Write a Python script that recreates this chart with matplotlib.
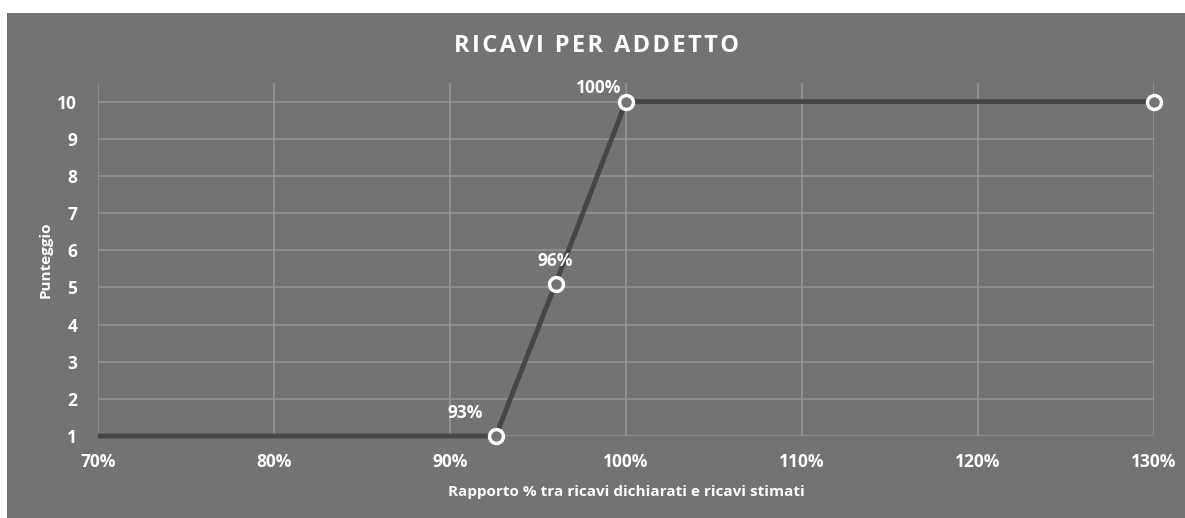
import matplotlib
matplotlib.use("Agg")
import matplotlib.pyplot as plt
from matplotlib.patches import Rectangle

# data
rapporto = [0.70, 0.926, 0.960, 1.00, 1.30]
punteggio = [1, 1, 5.1, 10, 10]
etichette = [None, "93%", "96%", "100%", None]
x_ticks = [0.70, 0.80, 0.90, 1.00, 1.10, 1.20, 1.30]
y_ticks = list(range(1, 11))
titolo = "RICAVI PER ADDETTO"

BG = "#737373"
GRID = "#939393"
LINE = "#464646"

plt.rcParams['font.family'] = ['Open Sans', 'DejaVu Sans']

fig = plt.figure(figsize=(11.85, 5.18), dpi=100)
fig.patch.set_facecolor("white")
# grey chart panel (white margin on top and left, like the screenshot)
fig.patches.append(Rectangle((7 / 1185, 0), 1, 1 - 13 / 518,
                             transform=fig.transFigure, facecolor=BG,
                             edgecolor="none", zorder=-10))

ax = fig.add_axes([98 / 1185, 82 / 518, (1154 - 98) / 1185, (436 - 83) / 518])
ax.set_zorder(5)
ax.set_facecolor(BG)
ax.patch.set_alpha(0)

ax.plot(rapporto, punteggio, color=LINE, lw=3.5, zorder=3, solid_capstyle="butt",
        clip_on=False)
ax.plot(rapporto[1:], punteggio[1:], ls="none", marker="o", ms=10,
        mfc=BG, mec="white", mew=2.5, zorder=4, clip_on=False)

# data labels
offsets = {"93%": (-22, 10), "96%": (0, 10), "100%": (-20, 3)}
for x, y, lab in zip(rapporto, punteggio, etichette):
    if lab is None:
        continue
    dx, dy = offsets[lab]
    ax.annotate(lab, (x, y), xytext=(dx, dy), textcoords="offset points",
                ha="center", va="bottom", color="white", fontsize=12.5,
                fontweight="bold", zorder=5)

ax.set_xlim(0.70, 1.30)
ax.set_ylim(1, 10.5)
ax.set_xticks(x_ticks)
ax.set_xticklabels([f"{round(v * 100)}%" for v in x_ticks])
ax.set_yticks(y_ticks)

ax.grid(True, color=GRID, lw=1.2, zorder=1)
ax.set_axisbelow(True)
for s in ax.spines.values():
    s.set_visible(False)
ax.tick_params(length=0, colors="white", labelsize=12.5, pad=12)
ax.tick_params(axis="y", pad=15)
for t in ax.get_xticklabels() + ax.get_yticklabels():
    t.set_fontweight("bold")

ax.set_xlabel("Rapporto % tra ricavi dichiarati e ricavi stimati",
              color="white", fontsize=11, fontweight="bold", labelpad=10)
ax.set_ylabel("Punteggio", color="white", fontsize=11, fontweight="bold",
              labelpad=3)

# title with a little letter spacing, like the Excel one
spaced = "\u200a \u200a".join("\u200a".join(w) for w in titolo.split())
fig.text((7 + 1185) / 2 / 1185, 1 - 46 / 518, spaced,
         ha="center", va="center", color="white", fontsize=17,
         fontweight="bold")

fig.savefig("out.png", dpi=100, facecolor=fig.get_facecolor())
